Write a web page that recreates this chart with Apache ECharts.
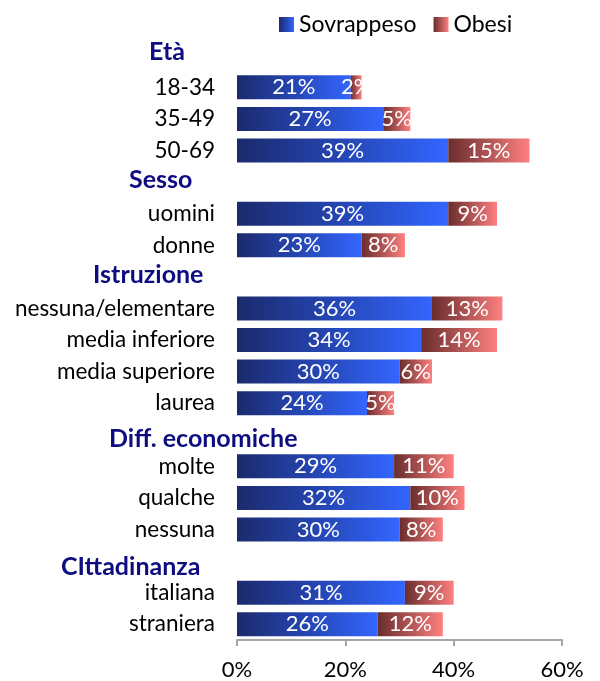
<!DOCTYPE html>
<html>
<head>
<meta charset="utf-8">
<script src="https://cdn.jsdelivr.net/npm/echarts@6/dist/echarts.min.js"></script>
<style>
  html, body { margin: 0; padding: 0; background: #fff; }
  #chart { width: 600px; height: 681px; }
</style>
</head>
<body>
<div id="chart"></div>
<script>
// categorie (i titoli di gruppo non hanno barre)
var categories = ['Età', '18-34', '35-49', '50-69',
  'Sesso', 'uomini', 'donne',
  'Istruzione', 'nessuna/elementare', 'media inferiore', 'media superiore', 'laurea',
  'Diff. economiche', 'molte', 'qualche', 'nessuna',
  'CIttadinanza', 'italiana', 'straniera']
var headers = ['Età', 'Sesso', 'Istruzione', 'Diff. economiche', 'CIttadinanza']
var sovrappeso = [null, 21, 27, 39, null, 39, 23, null, 36, 34, 30, 24, null, 29, 32, 30, null, 31, 26]
var obesi = [null, 2, 5, 15, null, 9, 8, null, 13, 14, 6, 5, null, 11, 10, 8, null, 9, 12]
var xTicks = [0, 20, 40, 60]

// posizione dei titoli di gruppo: [x sinistra, spostamento verticale]
var headerPos = {
  'Età': [149, -4],
  'Sesso': [129, -2],
  'Istruzione': [93, -2],
  'Diff. economiche': [109, 4],
  'CIttadinanza': [61, 6]
}

var chart = echarts.init(document.getElementById('chart'))

function grad(c0, c1, c2) {
  return new echarts.graphic.LinearGradient(0, 0, 1, 0, [
    { offset: 0, color: c0 },
    { offset: 0.5, color: c1 },
    { offset: 1, color: c2 }
  ])
}

var barLabel = {
  show: true,
  position: 'inside',
  color: '#fff',
  fontFamily: 'Lato',
  fontSize: 22,
  formatter: function (p) { return p.value == null ? '' : p.value + '%' }
}

chart.setOption({
  animation: false,
  textStyle: { fontFamily: 'Lato' },
  legend: {
    top: 8,
    left: 274,
    icon: 'rect',
    itemWidth: 15,
    itemHeight: 15,
    itemGap: 17,
    textStyle: { fontSize: 23, color: '#000', fontFamily: 'Lato' },
    data: ['Sovrappeso', 'Obesi']
  },
  grid: {
    left: 237,
    right: 38,
    top: 40,
    bottom: 38,
    containLabel: false
  },
  xAxis: {
    type: 'value',
    min: xTicks[0],
    max: xTicks[xTicks.length - 1],
    interval: 20,
    axisLine: { show: true, lineStyle: { color: '#a6a6a6', width: 2 } },
    axisTick: { show: true, length: 6, lineStyle: { color: '#a6a6a6', width: 2 } },
    splitLine: { show: false },
    axisLabel: {
      color: '#000',
      fontSize: 22,
      fontFamily: 'Lato',
      margin: 19,
      formatter: '{value}%'
    }
  },
  yAxis: {
    type: 'category',
    inverse: true,
    data: categories,
    axisLine: { show: false },
    axisTick: { show: false },
    axisLabel: {
      color: '#000',
      fontSize: 22.5,
      fontFamily: 'Lato',
      margin: 22,
      formatter: function (v) { return headers.indexOf(v) >= 0 ? '' : v }
    }
  },
  series: [
    {
      name: 'Sovrappeso',
      type: 'bar',
      stack: 'tot',
      barWidth: 24,
      data: sovrappeso,
      itemStyle: { color: grad('#1b2a6c', '#2546b4', '#3366ff') },
      label: barLabel
    },
    {
      name: 'Obesi',
      type: 'bar',
      stack: 'tot',
      barWidth: 24,
      data: obesi,
      itemStyle: { color: grad('#6a2d2d', '#b25555', '#ff8080') },
      label: barLabel
    }
  ]
})

// titoli di gruppo in blu scuro, allineati alle righe dell'asse
var g = headers.map(function (h) {
  var y = chart.convertToPixel({ yAxisIndex: 0 }, h)
  return {
    type: 'text',
    x: headerPos[h][0],
    y: y + headerPos[h][1],
    style: {
      text: h,
      font: 'bold 25px Lato',
      fill: '#0d0d80',
      verticalAlign: 'middle',
      textVerticalAlign: 'middle'
    }
  }
})
chart.setOption({ graphic: g })

window.addEventListener('resize', function () { chart.resize() })
</script>
</body>
</html>
